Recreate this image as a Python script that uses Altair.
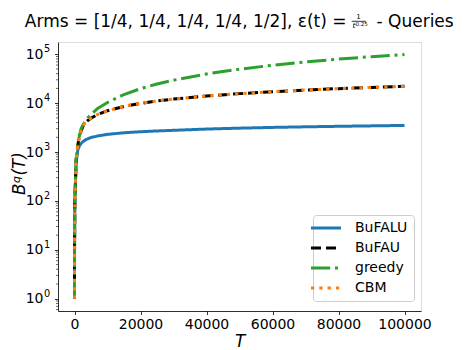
import altair as alt
import pandas as pd

# ---- data ----
T = [1, 10, 100, 500, 1000, 1500, 2000, 2500, 3000, 4000, 5000, 7000, 10000,
     15000, 20000, 25000, 30000, 40000, 50000, 60000, 70000, 80000, 90000, 100000]
bufalu = [1, 10, 100, 600, 1100, 1350, 1500, 1620, 1720, 1870, 1980, 2130, 2300,
          2480, 2600, 2700, 2780, 2950, 3080, 3190, 3280, 3360, 3430, 3500]
bufau = [1, 10, 100, 700, 1400, 2100, 2700, 3300, 3800, 4400, 4950, 5860, 7000,
         8570, 9900, 11070, 12100, 14000, 15650, 17100, 18500, 19800, 21000, 22100]
greedy = [1, 10, 100, 700, 1400, 2200, 3000, 3500, 4000, 5000, 5800, 7800, 10300,
          15000, 19800, 24600, 29500, 39500, 49500, 59500, 69500, 79500, 89000, 98500]
cbm = [1, 10, 100, 700, 1400, 2100, 2700, 3300, 3800, 4400, 4950, 5860, 7000,
       8570, 9900, 11070, 12100, 14000, 15650, 17100, 18500, 19800, 21000, 22100]

series_names = ["BuFALU", "BuFAU", "greedy", "CBM"]
series_values = [bufalu, bufau, greedy, cbm]
colors = ["#1f77b4", "#000000", "#2ca02c", "#ff7f0e"]
dashes = [[1, 0], [10, 5], [19.2, 4.8, 3, 4.8], [3.3, 5]]

x_ticks = [0, 20000, 40000, 60000, 80000, 100000]
y_ticks = [1, 10, 100, 1000, 10000, 100000]
y_tick_exps = ["0", "1", "2", "3", "4", "5"]
y_minor = [0.6, 0.7, 0.8, 0.9] + [m * 10 ** k for k in range(5) for m in range(2, 10)]

rows = []
for name, vals in zip(series_names, series_values):
    for t, v in zip(T, vals):
        rows.append({"T": t, "value": v, "series": name})
df = pd.DataFrame(rows)

FONT = "DejaVu Sans"

xscale = alt.Scale(domain=[-5000, 105000], nice=False, zero=False)
yscale = alt.Scale(type="log", domain=[10 ** -0.25, 10 ** 5.25], nice=False)

legend = alt.Legend(
    title=None, orient="none", legendX=255, legendY=173,
    symbolType="M-3,0H3", symbolSize=100, symbolStrokeWidth=3,
    labelFont=FONT, labelFontSize=14, labelColor="black", labelOffset=22,
    rowPadding=6, padding=6, strokeColor="#cccccc", fillColor="white",
    cornerRadius=3, labelLimit=200,
)

base = alt.Chart(df).mark_line(strokeWidth=3, clip=True).encode(
    x=alt.X("T:Q", scale=xscale,
            axis=alt.Axis(values=x_ticks, format="d", title="T", grid=False,
                          labelFont=FONT, labelFontSize=14, labelColor="black",
                          tickColor="black", tickSize=3.5, tickWidth=0.8,
                          domainColor="black", domainWidth=0.8, labelPadding=3,
                          titleFont=FONT, titleFontSize=16.8, titleFontStyle="italic",
                          titleFontWeight="normal", titleColor="black",
                          titleBaseline="alphabetic", titleY=35, labelFlush=False)),
    y=alt.Y("value:Q", scale=yscale,
            axis=alt.Axis(values=y_ticks, title=None, grid=False, labels=False,
                          tickColor="black", tickSize=3.5, tickWidth=0.8,
                          domainColor="black", domainWidth=0.8)),
    color=alt.Color("series:N", scale=alt.Scale(domain=series_names, range=colors), legend=legend),
    strokeDash=alt.StrokeDash("series:N", scale=alt.Scale(domain=series_names, range=dashes), legend=legend),
)

line_layers = [base.transform_filter(alt.datum.series == s) for s in series_names]

minor = alt.Chart(pd.DataFrame({"m": y_minor})).mark_rule(color="black", strokeWidth=0.6).encode(
    y=alt.Y("m:Q", scale=yscale), x=alt.value(-2), x2=alt.value(0))

# y tick labels 10^k (base + superscript) placed through the y scale
ylab_df = pd.DataFrame({"v": y_ticks, "e": y_tick_exps})
ylab_base = alt.Chart(ylab_df).mark_text(
    font=FONT, fontSize=14, align="right", baseline="alphabetic", dy=4.5, color="black"
).encode(y=alt.Y("v:Q", scale=yscale), x=alt.value(-14.5), text=alt.value("10"))
ylab_exp = alt.Chart(ylab_df).mark_text(
    font=FONT, fontSize=9.8, align="left", baseline="alphabetic", dy=-2, color="black"
).encode(y=alt.Y("v:Q", scale=yscale), x=alt.value(-14), text="e:N")

def txt(s, x, y, size, align="left", style="normal", angle=0):
    return alt.Chart(pd.DataFrame({"s": [s]})).mark_text(
        font=FONT, fontSize=size, align=align, baseline="alphabetic",
        fontStyle=style, color="black", angle=angle).encode(
        text="s:N", x=alt.value(x), y=alt.value(y))

title_parts = [
    txt("Arms = [1/4, 1/4, 1/4, 1/4, 1/2], ε(t) =", 288.5, -15.3, 17, align="right"),
    txt("1", 300.5, -23, 7, align="center"),
    txt("t", 294.5, -13.7, 7.5, style="italic"),
    txt("0.25", 297.5, -16, 5.5),
    txt("- Queries", 318.5, -15.3, 17),
]
frac_bar = alt.Chart(pd.DataFrame({"a": [0]})).mark_rule(color="black", strokeWidth=0.8).encode(
    x=alt.value(293.7), x2=alt.value(308), y=alt.value(-20.7))

ytitle = [
    txt("B", -33.5, 153, 16.8, style="italic", angle=270),
    txt("q", -38.5, 141, 11, style="italic", angle=270),
    txt("(T)", -33.5, 133.5, 16.8, style="italic", angle=270),
]

chart = alt.layer(minor, *line_layers, ylab_base, ylab_exp, *title_parts, frac_bar, *ytitle).resolve_scale(
    color="shared", strokeDash="shared"
).properties(
    width=363, height=269,
    autosize=alt.AutoSizeParams(type="none"),
    padding={"left": 50, "top": 34, "right": 38, "bottom": 38},
).configure_view(stroke="black", strokeWidth=0.8).configure(font=FONT)

chart.save("out.html", embed_options={"renderer": "svg", "actions": False})
